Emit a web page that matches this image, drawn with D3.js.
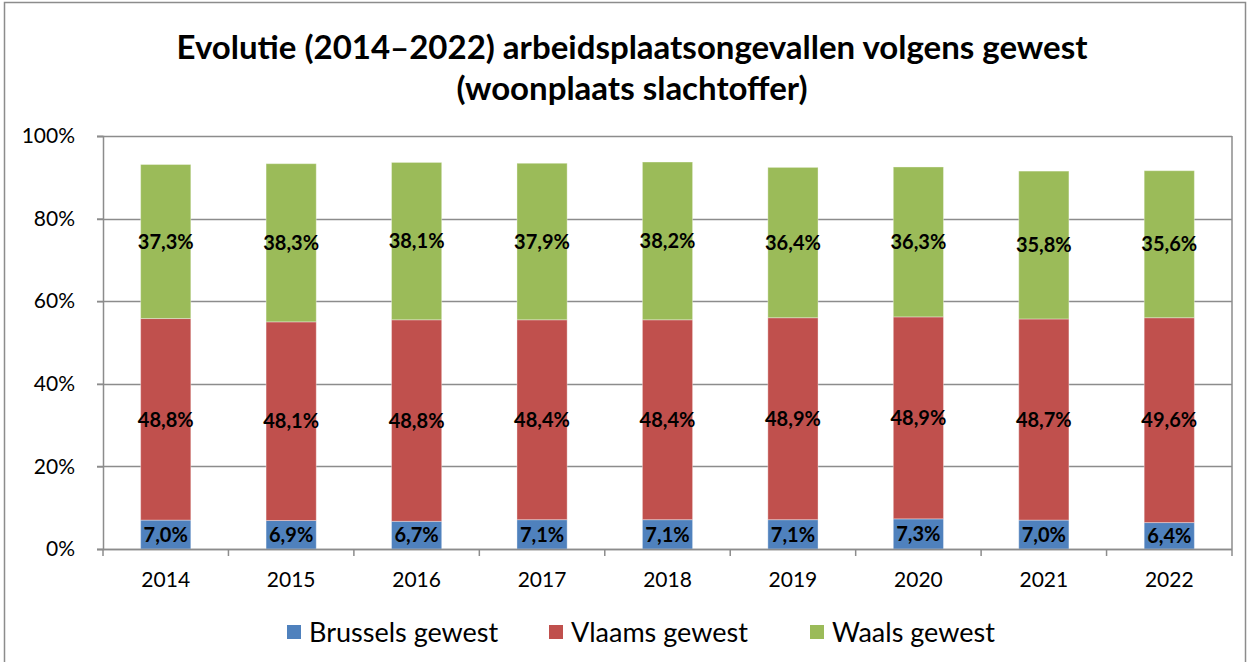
<!DOCTYPE html>
<html>
<head>
<meta charset="utf-8">
<script src="https://cdn.jsdelivr.net/npm/d3@7"></script>
<style>
  html, body { margin: 0; padding: 0; background: #fff; }
  svg { display: block; font-family: Lato, "Open Sans", sans-serif; }
</style>
</head>
<body>
<div id="chart"></div>
<script>
//Datos
const years = ['2014', '2015', '2016', '2017', '2018', '2019', '2020', '2021', '2022'];
const brussels = [7.0, 6.9, 6.7, 7.1, 7.1, 7.1, 7.3, 7.0, 6.4];
const vlaams = [48.8, 48.1, 48.8, 48.4, 48.4, 48.9, 48.9, 48.7, 49.6];
const waals = [37.3, 38.3, 38.1, 37.9, 38.2, 36.4, 36.3, 35.8, 35.6];
const seriesNames = ['Brussels gewest', 'Vlaams gewest', 'Waals gewest'];
const yTicks = [0, 20, 40, 60, 80, 100];

//Colores
const COLOR_BLUE = '#4F81BD',
COLOR_RED = '#C0504D',
COLOR_GREEN = '#9BBB59',
COLOR_GRID = '#8c8c8c';

const W = 1248, H = 662;
let margin = {top: 136, right: 16, bottom: 113, left: 103},
    width = W - margin.left - margin.right,
    height = H - margin.top - margin.bottom;

let svg = d3.select('#chart').append('svg')
    .attr('width', W)
    .attr('height', H);

//Marco exterior
svg.append('rect')
    .attr('x', 4.5).attr('y', 2.5)
    .attr('width', W - 7).attr('height', H)
    .attr('fill', 'none')
    .attr('stroke', '#8c8c8c')
    .attr('stroke-width', 1.5);

//Título
let title = svg.append('text')
    .attr('text-anchor', 'middle')
    .attr('font-weight', 'bold')
    .attr('font-size', '33px')
    .attr('fill', '#000');
title.append('tspan').attr('x', 632).attr('y', 59).text('Evolutie (2014–2022) arbeidsplaatsongevallen volgens gewest');
title.append('tspan').attr('x', 632).attr('y', 100).text('(woonplaats slachtoffer)');

let chart = svg.append('g')
    .attr('transform', 'translate(' + margin.left + ',' + margin.top + ')');

let x = d3.scaleBand()
    .domain(years)
    .range([0, width])
    .paddingInner(0.6)
    .paddingOuter(0.3);

let y = d3.scaleLinear()
    .domain([0, 100])
    .range([height, 0]);

//Rejilla
chart.append('g')
    .selectAll('line')
    .data(yTicks)
    .enter()
    .append('line')
        .attr('x1', -6)
        .attr('x2', width)
        .attr('y1', d => Math.round(y(d)) + 0.5)
        .attr('y2', d => Math.round(y(d)) + 0.5)
        .attr('stroke', COLOR_GRID)
        .attr('stroke-width', 1.5);

//Borde derecho del área
chart.append('line')
    .attr('x1', width).attr('x2', width)
    .attr('y1', 0).attr('y2', height)
    .attr('stroke', COLOR_GRID)
    .attr('stroke-width', 1.5);

//Eje Y
let yAxis = chart.append('g')
    .call(d3.axisLeft(y).tickValues(yTicks).tickSize(6).tickPadding(22).tickFormat(d => d + '%'));
yAxis.select('.domain').attr('stroke', COLOR_GRID).attr('stroke-width', 1.5);
yAxis.selectAll('.tick line').attr('stroke', COLOR_GRID).attr('stroke-width', 1.5);
yAxis.selectAll('text').attr('font-size', '21px').attr('fill', '#000').attr('font-family', 'Lato, sans-serif');

//Datos apilados
let table = years.map(function(yr, i) {
    return { year: yr, 'Brussels gewest': brussels[i], 'Vlaams gewest': vlaams[i], 'Waals gewest': waals[i] };
});
let stacked = d3.stack().keys(seriesNames)(table);

let color = d3.scaleOrdinal()
    .domain(seriesNames)
    .range([COLOR_BLUE, COLOR_RED, COLOR_GREEN]);

let groups = chart.append('g')
    .selectAll('g')
    .data(stacked)
    .enter()
    .append('g')
    .attr('fill', d => color(d.key));

groups.selectAll('rect')
    .data(d => d)
    .enter()
    .append('rect')
        .attr('x', d => x(d.data.year))
        .attr('y', d => y(d[1]))
        .attr('width', x.bandwidth())
        .attr('height', d => y(d[0]) - y(d[1]))
        .attr('stroke', 'rgba(255,255,255,0.35)')
        .attr('stroke-width', 1);

//Etiquetas
groups.selectAll('text')
    .data(d => d)
    .enter()
    .append('text')
        .attr('x', d => x(d.data.year) + x.bandwidth() / 2)
        .attr('y', d => (y(d[0]) + y(d[1])) / 2)
        .attr('dy', '0.36em')
        .attr('text-anchor', 'middle')
        .attr('font-weight', 'bold')
        .attr('font-size', '20px')
        .attr('fill', '#000')
        .text(d => d3.format('.1f')(d[1] - d[0]).replace('.', ',') + '%');

//Eje X
let step = x.step();
let xAxis = chart.append('g')
    .attr('transform', 'translate(0,' + height + ')');
xAxis.append('line')
    .attr('x1', 0).attr('x2', width)
    .attr('y1', 0.5).attr('y2', 0.5)
    .attr('stroke', COLOR_GRID)
    .attr('stroke-width', 1.5);
xAxis.selectAll('line.tk')
    .data(d3.range(years.length + 1))
    .enter()
    .append('line')
        .attr('class', 'tk')
        .attr('x1', i => i * step)
        .attr('x2', i => i * step)
        .attr('y1', 0).attr('y2', 7)
        .attr('stroke', COLOR_GRID)
        .attr('stroke-width', 1.5);
xAxis.selectAll('text')
    .data(years)
    .enter()
    .append('text')
        .attr('x', d => x(d) + x.bandwidth() / 2)
        .attr('y', 38)
        .attr('text-anchor', 'middle')
        .attr('font-size', '21px')
        .attr('fill', '#000')
        .text(d => d);

//Leyenda
let legendX = [287, 549, 810];
let legend = svg.append('g')
    .selectAll('g')
    .data(seriesNames)
    .enter()
    .append('g')
    .attr('transform', (d, i) => 'translate(' + legendX[i] + ',625)');
legend.append('rect')
    .attr('width', 14).attr('height', 14)
    .attr('fill', d => color(d));
legend.append('text')
    .attr('x', 22)
    .attr('y', 7)
    .attr('dy', '0.36em')
    .attr('font-size', '27px')
    .attr('fill', '#000')
    .text(d => d);
</script>
</body>
</html>
